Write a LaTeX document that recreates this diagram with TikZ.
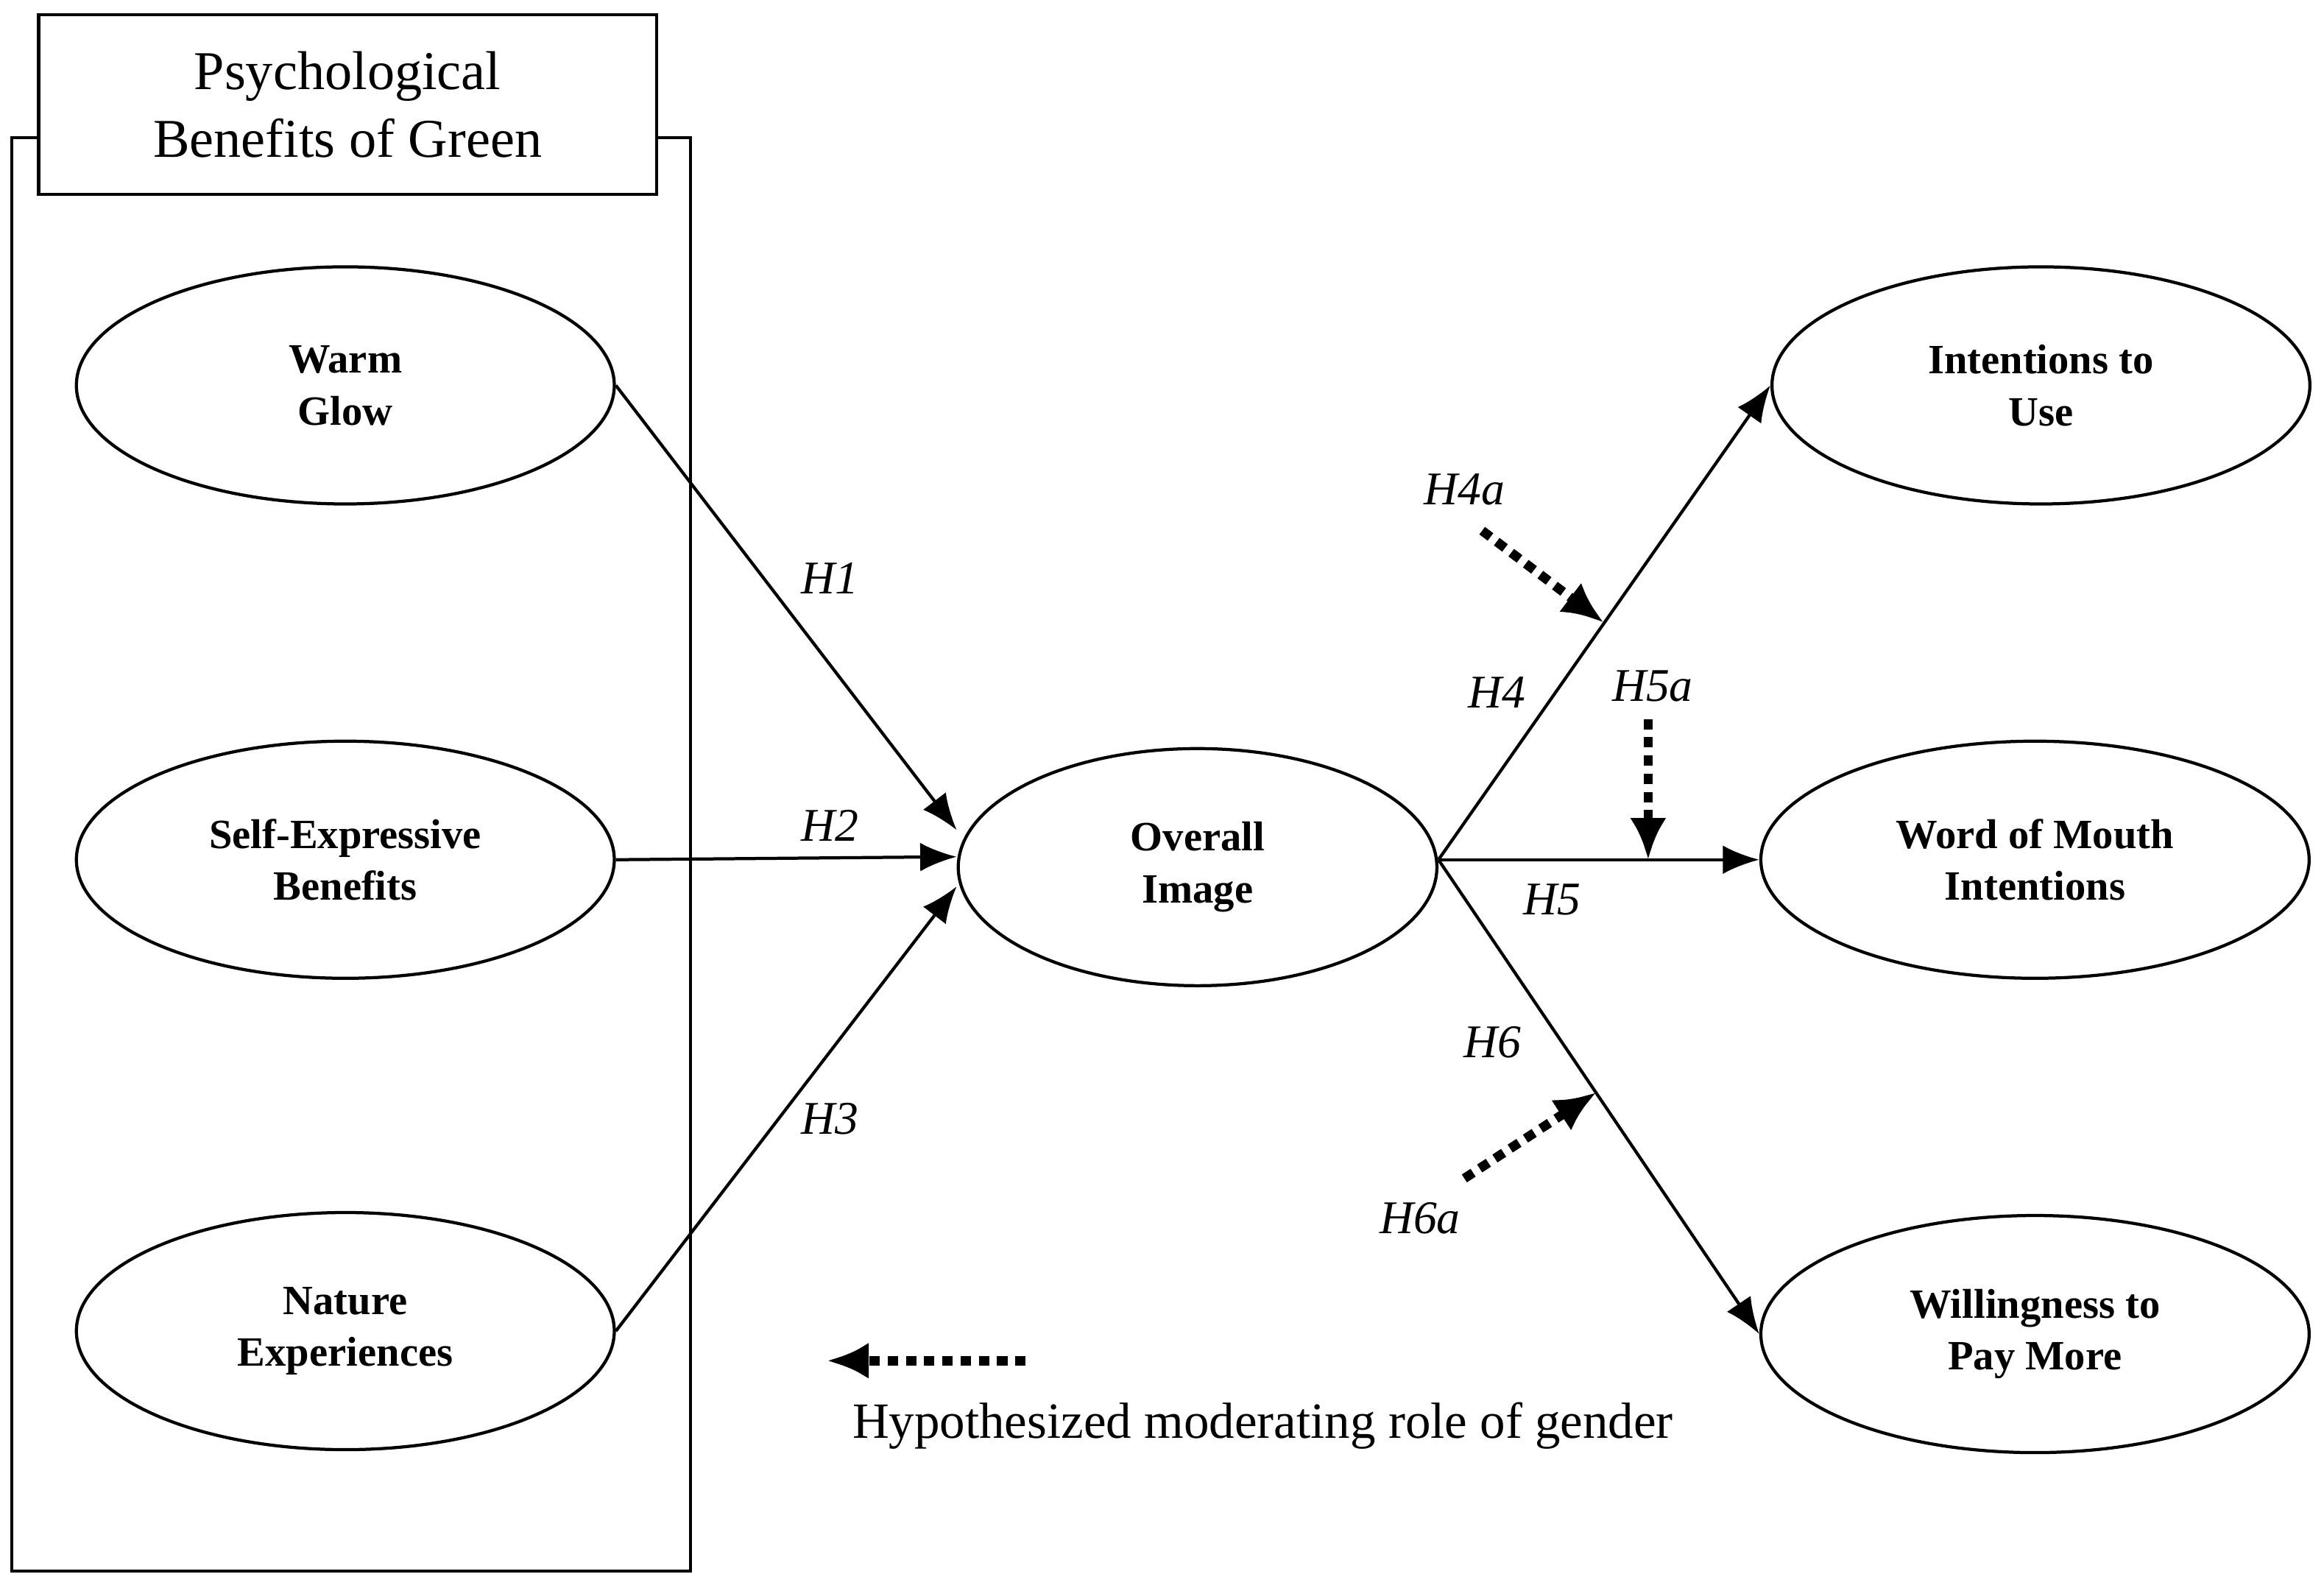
\documentclass[tikz,border=0pt]{standalone}
\usepackage{fontspec}
\setmainfont{Liberation Serif}
\usetikzlibrary{shapes.geometric,arrows.meta,calc}
\begin{document}
\begin{tikzpicture}[x=0.02cm,y=-0.02cm,
  ell/.style={ellipse,draw,line width=1.2pt,minimum width=7.26cm,minimum height=3.2cm,align=center,font=\fontsize{16}{20}\selectfont\bfseries},
  sol/.style={line width=1.2pt,-{Latex[length=14pt,width=11pt]}},
  dsh/.style={line width=3.6pt,dash pattern=on 4pt off 3pt,-{Latex[length=16pt,width=14pt]}},
  hl/.style={font=\fontsize{18}{22}\selectfont\itshape}]
\useasboundingbox (0,0) rectangle (1568,1071);
\draw[line width=1.2pt] (8,93) rectangle (466,1060);
\node[draw,fill=white,line width=1.2pt,minimum width=8.34cm,minimum height=2.42cm,align=center,font=\fontsize{21}{26}\selectfont] (title) at (234.5,70.5) {Psychological\\Benefits of Green};
\node[ell] (wg) at (233,260) {Warm\\Glow};
\node[ell] (se) at (233,580) {Self-Expressive\\Benefits};
\node[ell] (ne) at (233,898) {Nature\\Experiences};
\node[ell,minimum width=6.46cm] (oi) at (808,585) {Overall\\Image};
\node[ell] (iu) at (1377,260) {Intentions to\\Use};
\node[ell,minimum width=7.4cm] (wm) at (1373,580) {Word of Mouth\\Intentions};
\node[ell,minimum width=7.4cm] (wp) at (1373,900) {Willingness to\\Pay More};
\draw[sol] (wg.east) -- ($(oi.west)+(0,-25)$);
\draw[sol] (se.east) -- ($(oi.west)+(0,-7)$);
\draw[sol] (ne.east) -- ($(oi.west)+(0,13)$);
\coordinate (oe) at ($(oi.east)+(0,-5)$);
\draw[sol] (oe) -- (iu.west);
\draw[sol] (oe) -- (wm.west);
\draw[sol] (oe) -- (wp.west);
\node[hl] (h1) at (560,390) {H1};
\node[hl] (h2) at (560,557) {H2};
\node[hl] (h3) at (560,755) {H3};
\node[hl] (h4) at (1010,467) {H4};
\node[hl] (h5) at (1047,607) {H5};
\node[hl] (h6) at (1007,703) {H6};
\node[hl] (h4a) at (988,330) {H4a};
\node[hl] (h5a) at (1115,463) {H5a};
\node[hl] (h6a) at (958,822) {H6a};
\coordinate (a4s) at (1000,358); \coordinate (a4e) at (1082,420);
\coordinate (a5s) at (1112,485); \coordinate (a5e) at (1112,580);
\coordinate (a6s) at (988,795); \coordinate (a6e) at (1077,737);
\coordinate (ls) at (692,918); \coordinate (le) at (558,918);
\draw[dsh] (a4s) -- (a4e);
\draw[dsh] (a5s) -- (a5e);
\draw[dsh] (a6s) -- (a6e);
\draw[dsh] (ls) -- (le);
\node[font=\fontsize{19.5}{24}\selectfont] (leg) at (852,962) {Hypothesized moderating role of gender};
\end{tikzpicture}
\end{document}
